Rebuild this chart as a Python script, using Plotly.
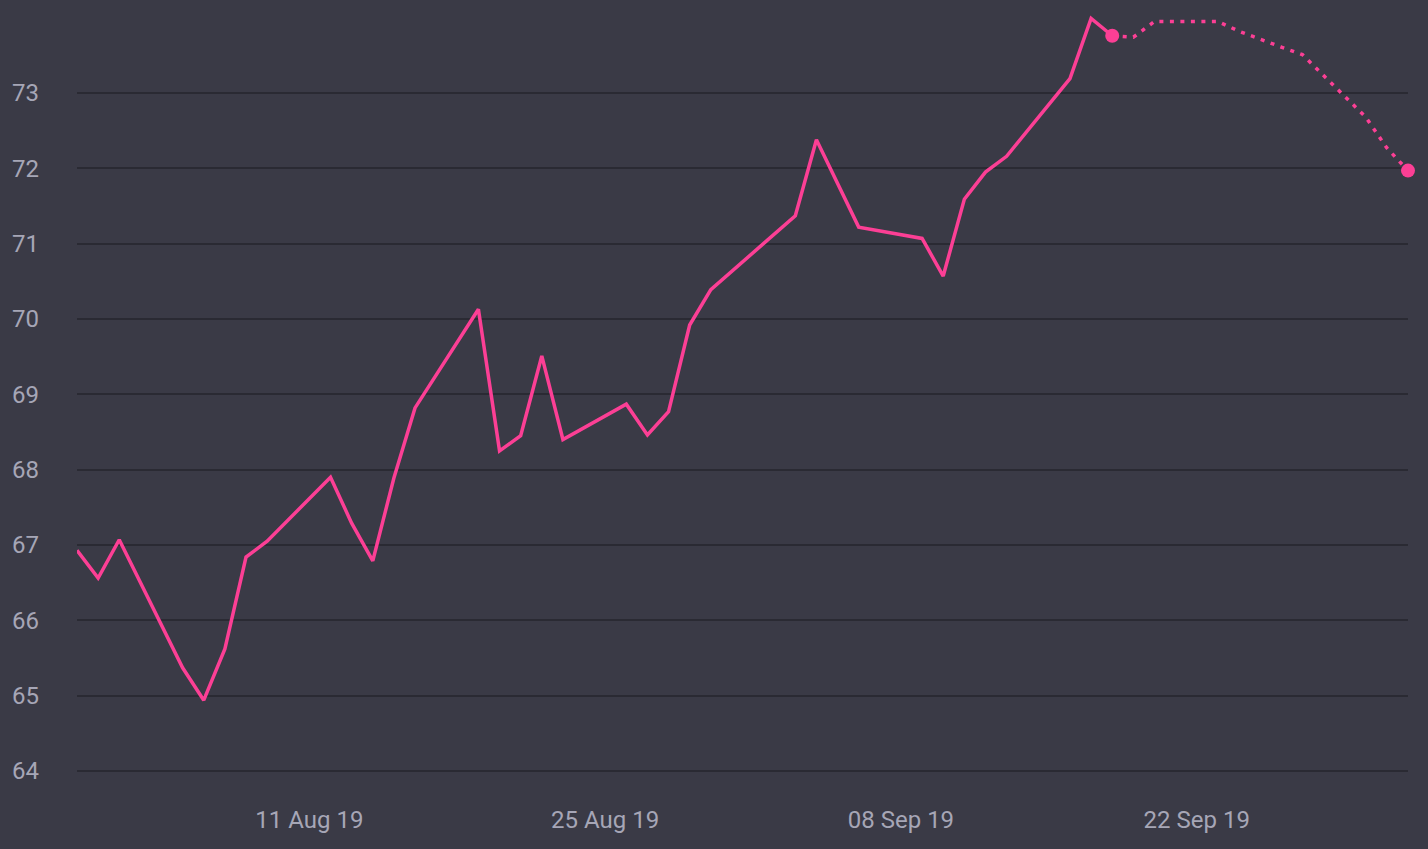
import plotly.graph_objects as go

# observed series (trading days)
dates = ['2019-07-31', '2019-08-01', '2019-08-02', '2019-08-05', '2019-08-06',
         '2019-08-07', '2019-08-08', '2019-08-09', '2019-08-12', '2019-08-13',
         '2019-08-14', '2019-08-15', '2019-08-16', '2019-08-19', '2019-08-20',
         '2019-08-21', '2019-08-22', '2019-08-23', '2019-08-26', '2019-08-27',
         '2019-08-28', '2019-08-29', '2019-08-30', '2019-09-03', '2019-09-04',
         '2019-09-06', '2019-09-09', '2019-09-10', '2019-09-11', '2019-09-12',
         '2019-09-13', '2019-09-16', '2019-09-17', '2019-09-18']
values = [66.93, 66.56, 67.07, 65.37, 64.94,
          65.62, 66.84, 67.05, 67.90, 67.29,
          66.79, 67.89, 68.82, 70.13, 68.25,
          68.45, 69.51, 68.40, 68.87, 68.46,
          68.77, 69.92, 70.39, 71.37, 72.38,
          71.22, 71.07, 70.57, 71.59, 71.95,
          72.16, 73.19, 73.99, 73.76]

# forecast series
fc_dates = ['2019-09-18', '2019-09-19', '2019-09-20', '2019-09-23', '2019-09-24',
            '2019-09-25', '2019-09-26', '2019-09-27', '2019-09-30', '2019-10-01',
            '2019-10-02']
fc_values = [73.76, 73.74, 73.95, 73.95, 73.82,
             73.71, 73.61, 73.51, 72.68, 72.27,
             71.97]

y_ticks = [64, 65, 66, 67, 68, 69, 70, 71, 72, 73]

pink = '#fc3f95'
bg = '#3a3a46'
grid = '#2a2a33'
txt = '#a6a6b6'
font = 'Roboto, sans-serif'

fig = go.Figure()
fig.add_trace(go.Scatter(
    x=dates, y=values, mode='lines',
    line=dict(color=pink, width=3.5),
    hoverinfo='x+y'
))
fig.add_trace(go.Scatter(
    x=fc_dates, y=fc_values, mode='lines',
    line=dict(color=pink, width=3.5, dash='4px,6.5px'),
    hoverinfo='x+y'
))
fig.add_trace(go.Scatter(
    x=[fc_dates[0], fc_dates[-1]], y=[fc_values[0], fc_values[-1]],
    mode='markers', marker=dict(color=pink, size=14),
    cliponaxis=False, hoverinfo='skip'
))

fig.update_layout(
    width=1428, height=849,
    paper_bgcolor=bg, plot_bgcolor=bg,
    showlegend=False,
    margin=dict(l=77, r=20, t=10, b=59),
    font=dict(family=font, size=24, color=txt),
)
fig.update_xaxes(
    type='date',
    range=['2019-07-31', '2019-10-02'],
    tick0='2019-08-11', dtick=14 * 24 * 3600 * 1000,
    tickformat='%d %b %y',
    showgrid=False, zeroline=False, showline=False,
    ticks='', ticklabelstandoff=13,
)
fig.update_yaxes(
    range=[63.748, 74.102],
    tickvals=y_ticks,
    gridcolor=grid, gridwidth=2,
    zeroline=False, showline=False,
    ticks='', ticklabelstandoff=37,
)

# let the page fill the window without the default body margin
fig.write_html('out.html', config={'displayModeBar': False}, post_script=(
    "document.body.style.margin='0';"
    "document.body.style.background='#3a3a46';"
))
